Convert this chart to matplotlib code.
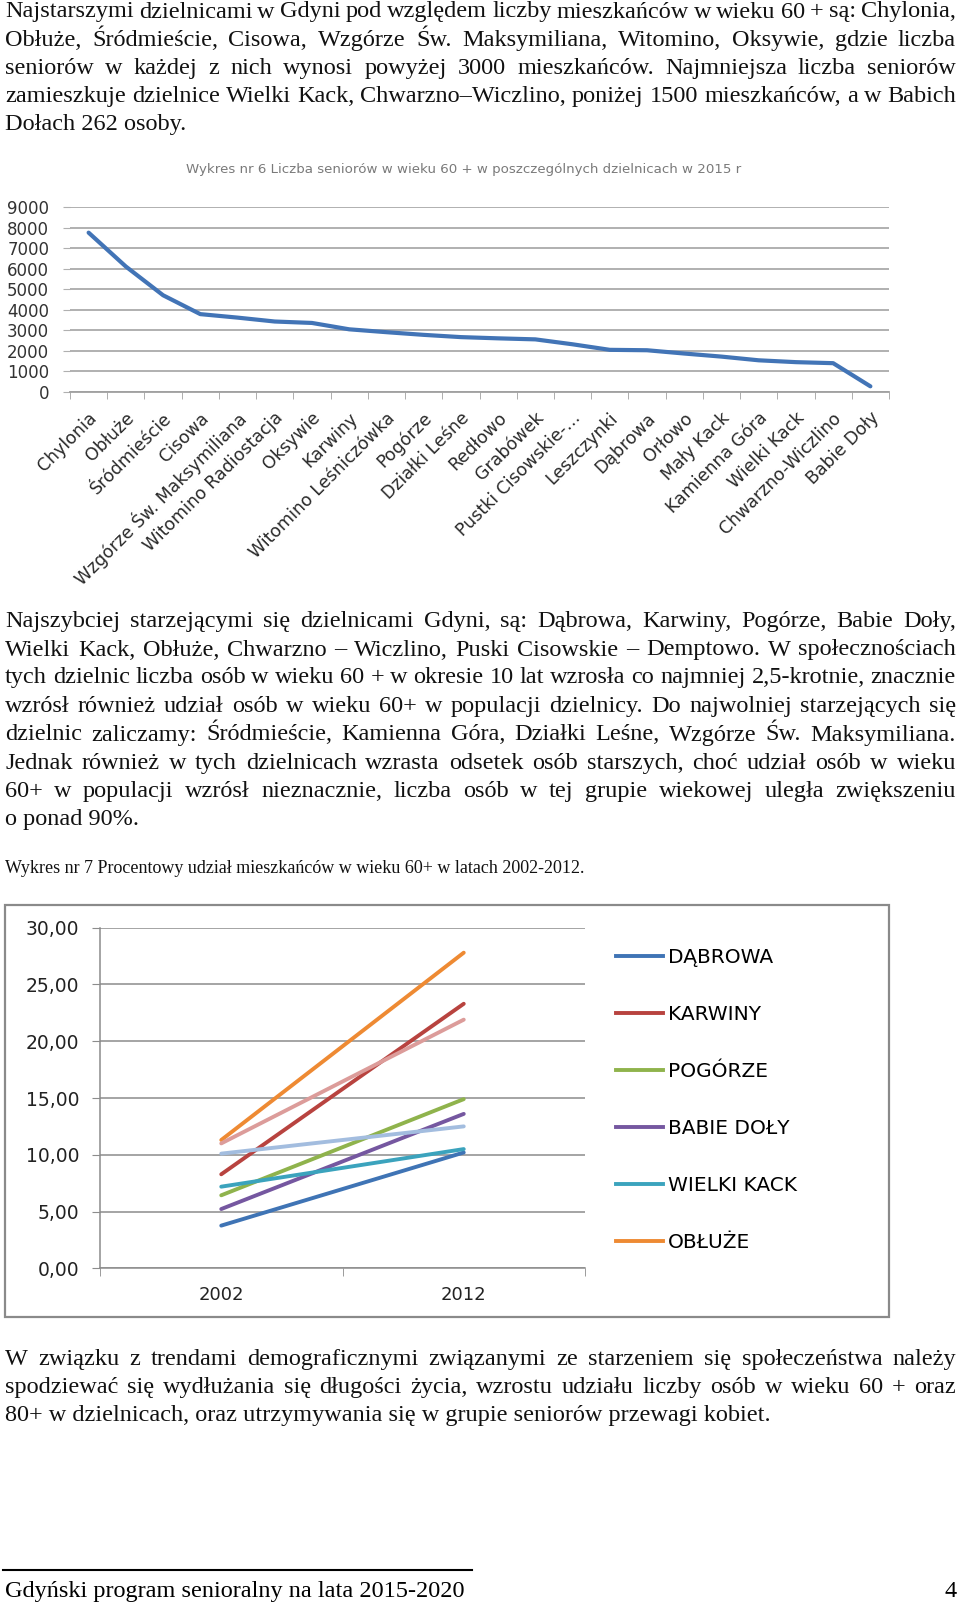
import numpy as np
import matplotlib
matplotlib.use('Agg')
import matplotlib.pyplot as plt
from matplotlib.patches import Rectangle
from matplotlib.lines import Line2D

W, H = 960, 1605

# dane - wykres 6
districts = ['Chylonia', 'Obłuże', 'Śródmieście', 'Cisowa', 'Wzgórze Św. Maksymiliana',
             'Witomino Radiostacja', 'Oksywie', 'Karwiny', 'Witomino Leśniczówka', 'Pogórze',
             'Działki Leśne', 'Redłowo', 'Grabówek', 'Pustki Cisowskie-…', 'Leszczynki',
             'Dąbrowa', 'Orłowo', 'Mały Kack', 'Kamienna Góra', 'Wielki Kack',
             'Chwarzno-Wiczlino', 'Babie Doły']
seniors = [7750, 6100, 4700, 3780, 3610, 3420, 3350, 3040, 2900, 2770, 2660,
           2600, 2550, 2310, 2040, 2020, 1860, 1710, 1530, 1440, 1390, 262]
y_ticks_1 = [0, 1000, 2000, 3000, 4000, 5000, 6000, 7000, 8000, 9000]

# dane - wykres 7
years = ['2002', '2012']
series = ['DĄBROWA', 'KARWINY', 'POGÓRZE', 'BABIE DOŁY', 'WIELKI KACK', 'OBŁUŻE',
          'CHWARZNO – WICZLINO', 'PUSTKI CISOWSKIE – DEMPTOWO']
pct_2002 = [3.76, 8.28, 6.43, 5.22, 7.19, 11.3, 10.1, 11.0]
pct_2012 = [10.2, 23.3, 14.9, 13.6, 10.5, 27.8, 12.5, 21.9]
colors = ['#3f74b5', '#b8433f', '#8fb34c', '#7557a0', '#3ba3bd', '#ee8a33', '#a3bddf', '#dc9c9a']
y_ticks_2 = [0, 5, 10, 15, 20, 25, 30]

par1 = ["Najstarszymi dzielnicami w Gdyni pod względem liczby mieszkańców w wieku 60 + są: Chylonia,",
        "Obłuże, Śródmieście, Cisowa, Wzgórze Św. Maksymiliana, Witomino, Oksywie, gdzie liczba",
        "seniorów w każdej z nich wynosi powyżej 3000 mieszkańców. Najmniejsza liczba seniorów",
        "zamieszkuje dzielnice Wielki Kack, Chwarzno–Wiczlino, poniżej 1500 mieszkańców, a w Babich",
        "Dołach 262 osoby."]
par2 = ["Najszybciej starzejącymi się dzielnicami Gdyni, są: Dąbrowa, Karwiny, Pogórze, Babie Doły,",
        "Wielki Kack, Obłuże, Chwarzno – Wiczlino, Puski Cisowskie – Demptowo. W społecznościach",
        "tych dzielnic liczba osób w wieku 60 + w okresie 10 lat wzrosła co najmniej 2,5-krotnie, znacznie",
        "wzrósł również udział osób w wieku 60+ w populacji dzielnicy. Do najwolniej starzejących się",
        "dzielnic zaliczamy: Śródmieście, Kamienna Góra, Działki Leśne, Wzgórze Św. Maksymiliana.",
        "Jednak również w tych dzielnicach wzrasta odsetek osób starszych, choć udział osób w wieku",
        "60+ w populacji wzrósł nieznacznie, liczba osób w tej grupie wiekowej uległa zwiększeniu",
        "o ponad 90%."]
par3 = ["W związku z trendami demograficznymi związanymi ze starzeniem się społeczeństwa należy",
        "spodziewać się wydłużania się długości życia, wzrostu udziału liczby osób w wieku 60 + oraz",
        "80+ w dzielnicach, oraz utrzymywania się w grupie seniorów przewagi kobiet."]
caption = "Wykres nr 7 Procentowy udział mieszkańców w wieku 60+ w latach 2002-2012."
title_6 = "Wykres nr 6 Liczba seniorów w wieku 60 + w poszczególnych dzielnicach w 2015 r"
footer = "Gdyński program senioralny na lata 2015-2020"


def fx(x):
    return x / W


def fy(y):
    return 1 - y / H


fig = plt.figure(figsize=(W / 100, H / 100), dpi=100)
fig.patch.set_facecolor('white')
renderer = fig.canvas.get_renderer()

SERIF = 'Liberation Serif'
BODY = 17.5
X0, X1 = 5, 956


def paragraph(lines, baselines, size=BODY):
    for i, (line, yb) in enumerate(zip(lines, baselines)):
        if i == len(lines) - 1:
            fig.text(fx(X0), fy(yb), line, family=SERIF, fontsize=size, va='baseline', color='#111111')
            continue
        words = line.split()
        texts = [fig.text(0, 0, w, family=SERIF, fontsize=size, va='baseline', color='#111111') for w in words]
        widths = [t.get_window_extent(renderer).width for t in texts]
        gap = (X1 - X0 - sum(widths)) / (len(words) - 1)
        x = X0
        for t, w in zip(texts, widths):
            t.set_position((fx(x), fy(yb)))
            x += w + gap


paragraph(par1, [17.5, 46, 74, 102, 130])
paragraph(par2, [627, 655.5, 683.5, 712, 740.5, 768.5, 797, 825])
fig.text(fx(5), fy(873), caption, family=SERIF, fontsize=13, va='baseline', color='#111111')
paragraph(par3, [1365, 1393, 1421])

# stopka
fig.add_artist(Line2D([fx(3), fx(472)], [fy(1570), fy(1570)], color='black', lw=1.5))
fig.text(fx(5), fy(1597), footer, family=SERIF, fontsize=BODY, va='baseline')
fig.text(fx(957), fy(1597), '4', family=SERIF, fontsize=BODY, va='baseline', ha='right')

# ---------------- wykres 6 ----------------
fig.text(fx(464), fy(170), title_6, fontsize=9.6, color='#7a7a7a', ha='center', va='center')

ax1 = fig.add_axes([fx(70), fy(391.7), (889 - 70) / W, (391.7 - 207) / H])
x1 = np.arange(len(districts))
ax1.plot(x1, seniors, color='#4274b6', lw=3, solid_capstyle='round', solid_joinstyle='round')
ax1.set_xlim(-0.5, 20.88)
ax1.set_ylim(0, 9000)
ax1.set_yticks(y_ticks_1)
ax1.set_yticklabels([str(v) for v in y_ticks_1], fontsize=12, color='#333333')
ax1.yaxis.grid(True, color='#b0b0b0', lw=1.4)
ax1.set_axisbelow(True)
for s in ['top', 'right', 'left']:
    ax1.spines[s].set_visible(False)
ax1.spines['bottom'].set_color('#a0a0a0')
ax1.spines['bottom'].set_linewidth(1.3)
ax1.tick_params(axis='y', length=5, color='#b0b0b0', pad=10)
ax1.set_xticks([])
ax1.set_xticks(np.arange(-0.5, len(districts), 1), minor=True)
ax1.tick_params(axis='x', which='minor', length=5, color='#a0a0a0')
for i, name in enumerate(districts):
    ax1.annotate(name, xy=(i, 0), xycoords=('data', 'axes fraction'), xytext=(4, -17),
                 textcoords='offset points', rotation=45, rotation_mode='anchor',
                 ha='right', va='center', fontsize=12.5, color='#2a2a2a', annotation_clip=False)

# ---------------- wykres 7 ----------------
fig.add_artist(Rectangle((fx(5), fy(1317)), (889 - 5) / W, (1317 - 905) / H,
                         transform=fig.transFigure, fill=False, edgecolor='#8a8a8a', lw=1.6))

ax2 = fig.add_axes([fx(100), fy(1268.3), (585 - 100) / W, (1268.3 - 927.7) / H])
x2 = np.arange(len(years))
for name, a, b, c in zip(series, pct_2002, pct_2012, colors):
    ax2.plot(x2, [a, b], color=c, lw=2.8, solid_capstyle='round', label=name)
ax2.set_xlim(-0.5, 1.5)
ax2.set_ylim(0, 30)
ax2.set_yticks(y_ticks_2)
ax2.set_yticklabels([f'{v:.2f}'.replace('.', ',') for v in y_ticks_2], fontsize=13.5, color='#222222')
ax2.yaxis.grid(True, color='#8c8c8c', lw=1.1)
ax2.set_axisbelow(True)
ax2.spines['top'].set_visible(False)
ax2.spines['right'].set_visible(False)
for s in ['left', 'bottom']:
    ax2.spines[s].set_color('#8c8c8c')
    ax2.spines[s].set_linewidth(1.1)
ax2.tick_params(axis='y', length=6, color='#8c8c8c', pad=9)
ax2.set_xticks(x2)
ax2.set_xticklabels(years, fontsize=13, color='#222222')
ax2.tick_params(axis='x', which='major', length=0, pad=13)
ax2.set_xticks([-0.5, 0.5, 1.5], minor=True)
ax2.tick_params(axis='x', which='minor', length=6, color='#8c8c8c')

handles = [Line2D([0], [0], color=c, lw=2.8) for c in colors[:6]]
ax2.legend(handles, series[:6], loc='upper left', bbox_to_anchor=(fx(616), fy(948)),
           bbox_transform=fig.transFigure, frameon=False, fontsize=14.5,
           handlelength=2.35, handletextpad=0.25, labelspacing=1.89,
           borderpad=0, borderaxespad=0)

fig.savefig('out.png', dpi=100, facecolor='white')
